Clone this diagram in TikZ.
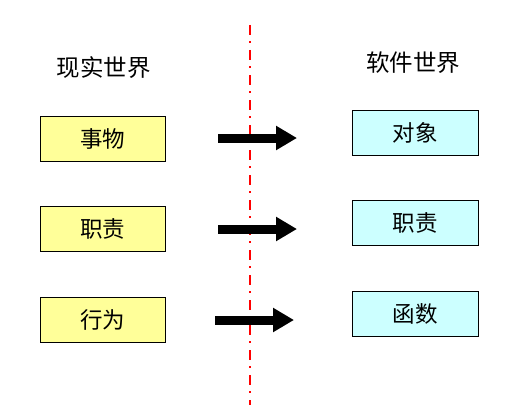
\documentclass[tikz,border=0pt]{standalone}
\usepackage{fontspec}
\setmainfont{Noto Sans CJK SC}
\usetikzlibrary{arrows.meta}
\definecolor{realfill}{HTML}{FFFF99}
\definecolor{softfill}{HTML}{CCFFFF}

\begin{document}
\begin{tikzpicture}[x=1pt, y=-1pt]
 \tikzstyle{real}=[rectangle, draw, fill=realfill, minimum width=125pt, minimum height=45pt, font=\fontsize{22.5}{24}\selectfont]
 \tikzstyle{soft}=[rectangle, draw, fill=softfill, minimum width=126pt, minimum height=45pt, font=\fontsize{22.5}{24}\selectfont]
 \tikzstyle{title}=[font=\fontsize{23.5}{26}\selectfont]
 \tikzstyle{arr}=[-{Triangle[length=21pt, width=23pt]}, line width=9pt]
 \tikzstyle{border}=[red, line width=1.6pt, dash pattern=on 10pt off 6pt on 2pt off 7pt]

 \useasboundingbox (0,0) rectangle (513,412);

 % Titles
 \node (nreal) at (103.5,67.5) [title] {现实世界};
 \node (nsoft) at (413,63) [title] {软件世界};

 % Real world
 \node (nthing) at (102.5,138.5) [real] {事物};
 \node (nduty) at (102.5,229) [real] {职责};
 \node (naction) at (102.5,319.5) [real] {行为};

 % Software world
 \node (nobject) at (415,132.5) [soft] {对象};
 \node (nduty2) at (415,223) [soft] {职责};
 \node (nfunc) at (415,314) [soft] {函数};

 % Border line
 \coordinate (ntop) at (250,25);
 \coordinate (nbottom) at (250,405);
 \draw [border] (ntop) -- (nbottom);

 % Mapping arrows
 \coordinate (nfrom1) at (218,138);
 \coordinate (nto1) at (297,138);
 \coordinate (nfrom2) at (218,229);
 \coordinate (nto2) at (297,229);
 \coordinate (nfrom3) at (215,320);
 \coordinate (nto3) at (294,320);
 \draw [arr] (nfrom1) -- (nto1);
 \draw [arr] (nfrom2) -- (nto2);
 \draw [arr] (nfrom3) -- (nto3);

\end{tikzpicture}
\end{document}
